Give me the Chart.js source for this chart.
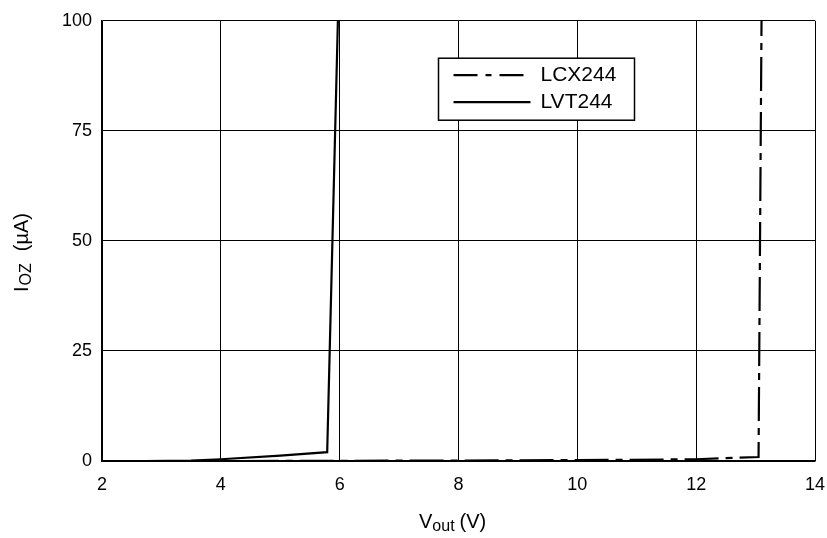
<!DOCTYPE html>
<html>
<head>
<meta charset="utf-8">
<script src="https://cdn.jsdelivr.net/npm/chart.js@4"></script>
<style>
  body { margin: 0; background: #fff; }
  #wrap { width: 827px; height: 538px; }
</style>
</head>
<body>
<div id="wrap"><canvas id="chart" width="827" height="538"></canvas></div>
<script>
// values (x in V, y in uA)
const lvtX = [2.7, 3.5, 4.0, 5.0, 5.79, 5.97];
const lvtY = [0, 0.1, 0.4, 1.2, 2.0, 100];
const lcxX = [4.4, 6.0, 8.0, 10.0, 12.0, 13.05, 13.1];
const lcxY = [0, 0.05, 0.1, 0.2, 0.4, 0.9, 100];
const xTicks = [2, 4, 6, 8, 10, 12, 14];
const yTicks = [0, 25, 50, 75, 100];
const seriesNames = ["LCX244", "LVT244"];

const FONT = "'Liberation Sans', Arial, sans-serif";
const dashDot = [34, 7, 7, 7];

function pts(xs, ys) {
  return xs.map((x, i) => ({ x: x, y: ys[i] }));
}

// legend box + axis titles with subscripts
const extras = {
  id: "extras",
  afterDraw(chart) {
    const ctx = chart.ctx;
    const x = chart.scales.x, y = chart.scales.y;
    ctx.save();

    // legend
    const bx = x.getPixelForValue(8) - 20, by = y.getPixelForValue(91.5);
    const bw = 196, bh = 62;
    ctx.fillStyle = "#fff";
    ctx.fillRect(bx, by, bw, bh);
    ctx.strokeStyle = "#000";
    ctx.lineWidth = 1.5;
    ctx.strokeRect(bx, by, bw, bh);
    const rows = [by + 17, by + 44];
    ctx.lineWidth = 2.2;
    ctx.setLineDash([24, 8, 6, 8]);
    ctx.beginPath(); ctx.moveTo(bx + 15, rows[0]); ctx.lineTo(bx + 92, rows[0]); ctx.stroke();
    ctx.setLineDash([]);
    ctx.beginPath(); ctx.moveTo(bx + 15, rows[1]); ctx.lineTo(bx + 92, rows[1]); ctx.stroke();
    ctx.fillStyle = "#000";
    ctx.font = "21px " + FONT;
    ctx.textBaseline = "middle";
    ctx.textAlign = "left";
    ctx.fillText(seriesNames[0], bx + 102, rows[0]);
    ctx.fillText(seriesNames[1], bx + 102, rows[1]);

    // x title: V_out (V)
    let tx = 419, ty = 522;
    ctx.font = "20px " + FONT;
    ctx.fillText("V", tx, ty);
    tx += ctx.measureText("V").width;
    ctx.font = "16px " + FONT;
    ctx.fillText("out", tx, ty + 5);
    tx += ctx.measureText("out").width + 5;
    ctx.font = "20px " + FONT;
    ctx.fillText("(V)", tx, ty);

    // y title: I_OZ (uA)
    ctx.translate(22, 292);
    ctx.rotate(-Math.PI / 2);
    let sx = 0;
    ctx.font = "20px " + FONT;
    ctx.fillText("I", sx, 0);
    sx += ctx.measureText("I").width + 1;
    ctx.font = "16px " + FONT;
    ctx.fillText("OZ", sx, 5);
    sx += ctx.measureText("OZ").width + 12;
    ctx.font = "20px " + FONT;
    ctx.fillText("(\u00b5A)", sx, 0);
    ctx.restore();
  }
};

new Chart(document.getElementById("chart"), {
  type: "line",
  data: {
    datasets: [
      {
        label: seriesNames[0],
        data: pts(lcxX, lcxY),
        borderColor: "#000",
        borderWidth: 2.2,
        borderDash: dashDot,
        pointRadius: 0,
        tension: 0
      },
      {
        label: seriesNames[1],
        data: pts(lvtX, lvtY),
        borderColor: "#000",
        borderWidth: 2.2,
        pointRadius: 0,
        tension: 0
      }
    ]
  },
  options: {
    responsive: false,
    animation: false,
    layout: { padding: { left: 0, top: 20, right: 0, bottom: 0 } },
    plugins: { legend: { display: false }, tooltip: { enabled: false } },
    scales: {
      x: {
        type: "linear",
        min: 2, max: 14,
        afterBuildTicks: s => { s.ticks = xTicks.map(v => ({ value: v })); },
        afterFit: s => { s.height = 77; s.paddingRight = 12; },
        grid: { color: "#000", lineWidth: 1, drawTicks: false },
        border: { color: "#000", width: 1.5 },
        ticks: { color: "#000", padding: 13, font: { family: FONT, size: 18 } }
      },
      y: {
        type: "linear",
        min: 0, max: 100,
        afterBuildTicks: s => { s.ticks = yTicks.map(v => ({ value: v })); },
        afterFit: s => { s.width = 102; },
        grid: { color: "#000", lineWidth: 1, drawTicks: false },
        border: { color: "#000", width: 1.5 },
        ticks: { color: "#000", padding: 10, font: { family: FONT, size: 18 } }
      }
    }
  },
  plugins: [extras]
});
</script>
</body>
</html>
